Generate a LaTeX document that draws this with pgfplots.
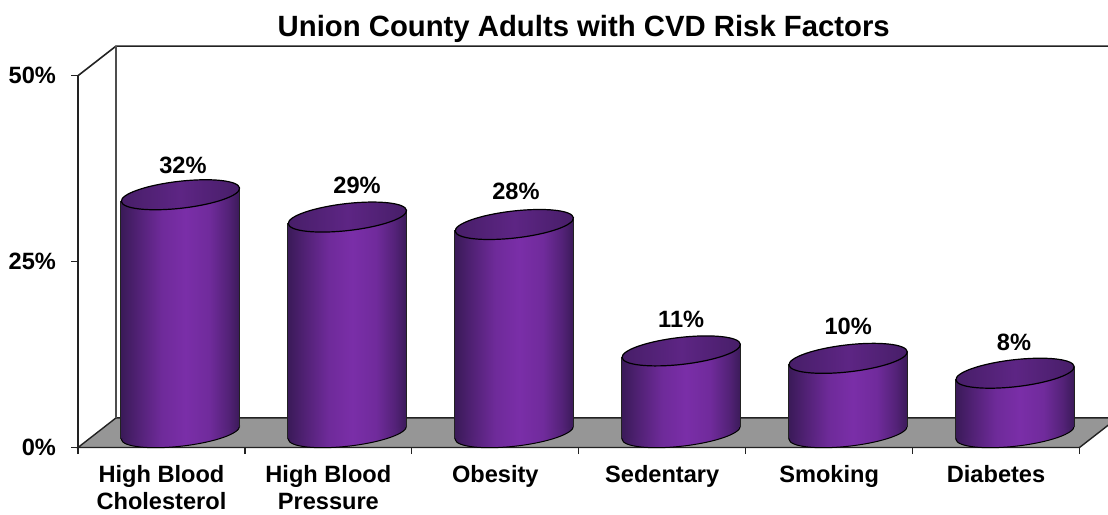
\documentclass[border=0pt]{standalone}
\usepackage{fontspec}
\setmainfont{Liberation Sans}
\usepackage{pgfplots}
\pgfplotsset{compat=1.18}
\definecolor{edgec}{HTML}{3A1A58}
\definecolor{midc}{HTML}{7A2EA8}
\definecolor{axc}{HTML}{222222}
\pgfdeclarehorizontalshading{cyl}{100bp}{color(0bp)=(edgec); color(25bp)=(edgec); color(32bp)=(edgec!65!midc); color(42bp)=(midc!82!edgec); color(52bp)=(midc); color(62bp)=(midc!85!edgec); color(70bp)=(edgec!60!midc); color(75bp)=(edgec); color(100bp)=(edgec)}
\pgfdeclareplotmark{botell}{\path[draw=black,line width=1pt,shading=cyl] \pgfextra{\pgfpathellipse{\pgfpointorigin}{\pgfqpoint{59.12pt}{6.74pt}}{\pgfqpoint{-1.53pt}{13.41pt}}};}
\pgfdeclareplotmark{topell}{\path[draw=black,line width=1.2pt,left color=edgec!80!midc,right color=edgec!80!midc,middle color=edgec!45!midc] \pgfextra{\pgfpathellipse{\pgfpointorigin}{\pgfqpoint{59.12pt}{6.74pt}}{\pgfqpoint{-1.53pt}{13.41pt}}};}
\newcommand{\cyl}[4]{%
  \addplot[draw=none,shading=cyl] coordinates {(#1,-0.8) (#1,#3) (#2,#4) (#2,0.8)} -- cycle;
  \addplot[axc,line width=1pt] coordinates {(#1,-0.8) (#1,#3)};
  \addplot[axc,line width=1pt] coordinates {(#2,0.8) (#2,#4)};
}
\pgfplotsset{frontaxis/.style={
  at={(19pt,14.8pt)}, anchor=origin,
  scale only axis, width=1001.5pt, height=371.8pt,
  xmin=0, xmax=6, ymin=0, ymax=50,
  clip=false, hide axis}}
\begin{document}
\begin{tikzpicture}
\useasboundingbox (-78pt,-66.5pt) rectangle (1030pt,447.5pt);
\begin{axis}[
  at={(0pt,0pt)}, anchor=origin,
  scale only axis, width=1001.5pt, height=371.8pt,
  xmin=0, xmax=6, ymin=0, ymax=50,
  clip=false, axis on top,
  axis x line=bottom, axis y line=left,
  axis line style={-,line width=1.6pt,draw=axc},
  tick style={line width=1.2pt,draw=axc},
  tick align=outside,
  major tick length=6.5pt,
  xtick={0,1,2,3,4,5,6},
  xticklabels={},
  extra x ticks={0.5,1.5,2.5,3.5,4.5,5.5},
  extra x tick labels={High Blood\\Cholesterol,High Blood\\Pressure,Obesity,Sedentary,Smoking,Diabetes},
  extra x tick style={major tick length=0pt},
  xticklabel style={align=center,font=\fontsize{23.6}{27}\selectfont\bfseries,yshift=-14pt},
  ytick={0,25,50},
  yticklabels={\raisebox{-2pt}{0\%},25\%,\raisebox{-2.5pt}{50\%}},
  yticklabel style={font=\fontsize{23.6}{27}\selectfont\bfseries,xshift=-12pt},
  title={Union County Adults with CVD Risk Factors},
  title style={font=\fontsize{29.3}{32}\selectfont\bfseries,at={(0.505,1)},anchor=south,yshift=24pt},
]
\addplot[fill=black!41,draw=axc,line width=1.4pt] coordinates {(0,0) (0.2277,3.98) (6.228,3.98) (6,0)} -- cycle;
\addplot[axc,line width=1.6pt] coordinates {(0,50) (0.2277,53.98) (6.228,53.98)};
\addplot[axc!80,line width=1.9pt] coordinates {(0.2277,3.98) (0.2277,53.98)};
\end{axis}
\begin{axis}[frontaxis]
\addplot[only marks,mark=botell] coordinates {(0.5,0) (1.5,0) (2.5,0) (3.5,0) (4.5,0) (5.5,0)};
\end{axis}
\begin{axis}[frontaxis]
\cyl{0.1435}{0.8565}{31.2}{32.8}
\cyl{1.1435}{1.8565}{28.2}{29.8}
\cyl{2.1435}{2.8565}{27.2}{28.8}
\cyl{3.1435}{3.8565}{10.2}{11.8}
\cyl{4.1435}{4.8565}{9.2}{10.8}
\cyl{5.1435}{5.8565}{7.2}{8.8}
\addplot[only marks,mark=topell] coordinates {(0.5,32) (1.5,29) (2.5,28) (3.5,11) (4.5,10) (5.5,8)};
\addplot[draw=none,mark=none,
  nodes near coords,point meta=explicit symbolic,
  every node near coord/.style={anchor=center,font=\fontsize{23.6}{27}\selectfont\bfseries,text=black}]
  table[meta=label] {
x y label
0.515 36 32\%
1.558 33.2 29\%
2.51 32.5 28\%
3.5 15.3 11\%
4.5 14.3 10\%
5.494 12.1 8\%
};
\end{axis}
\end{tikzpicture}
\end{document}
